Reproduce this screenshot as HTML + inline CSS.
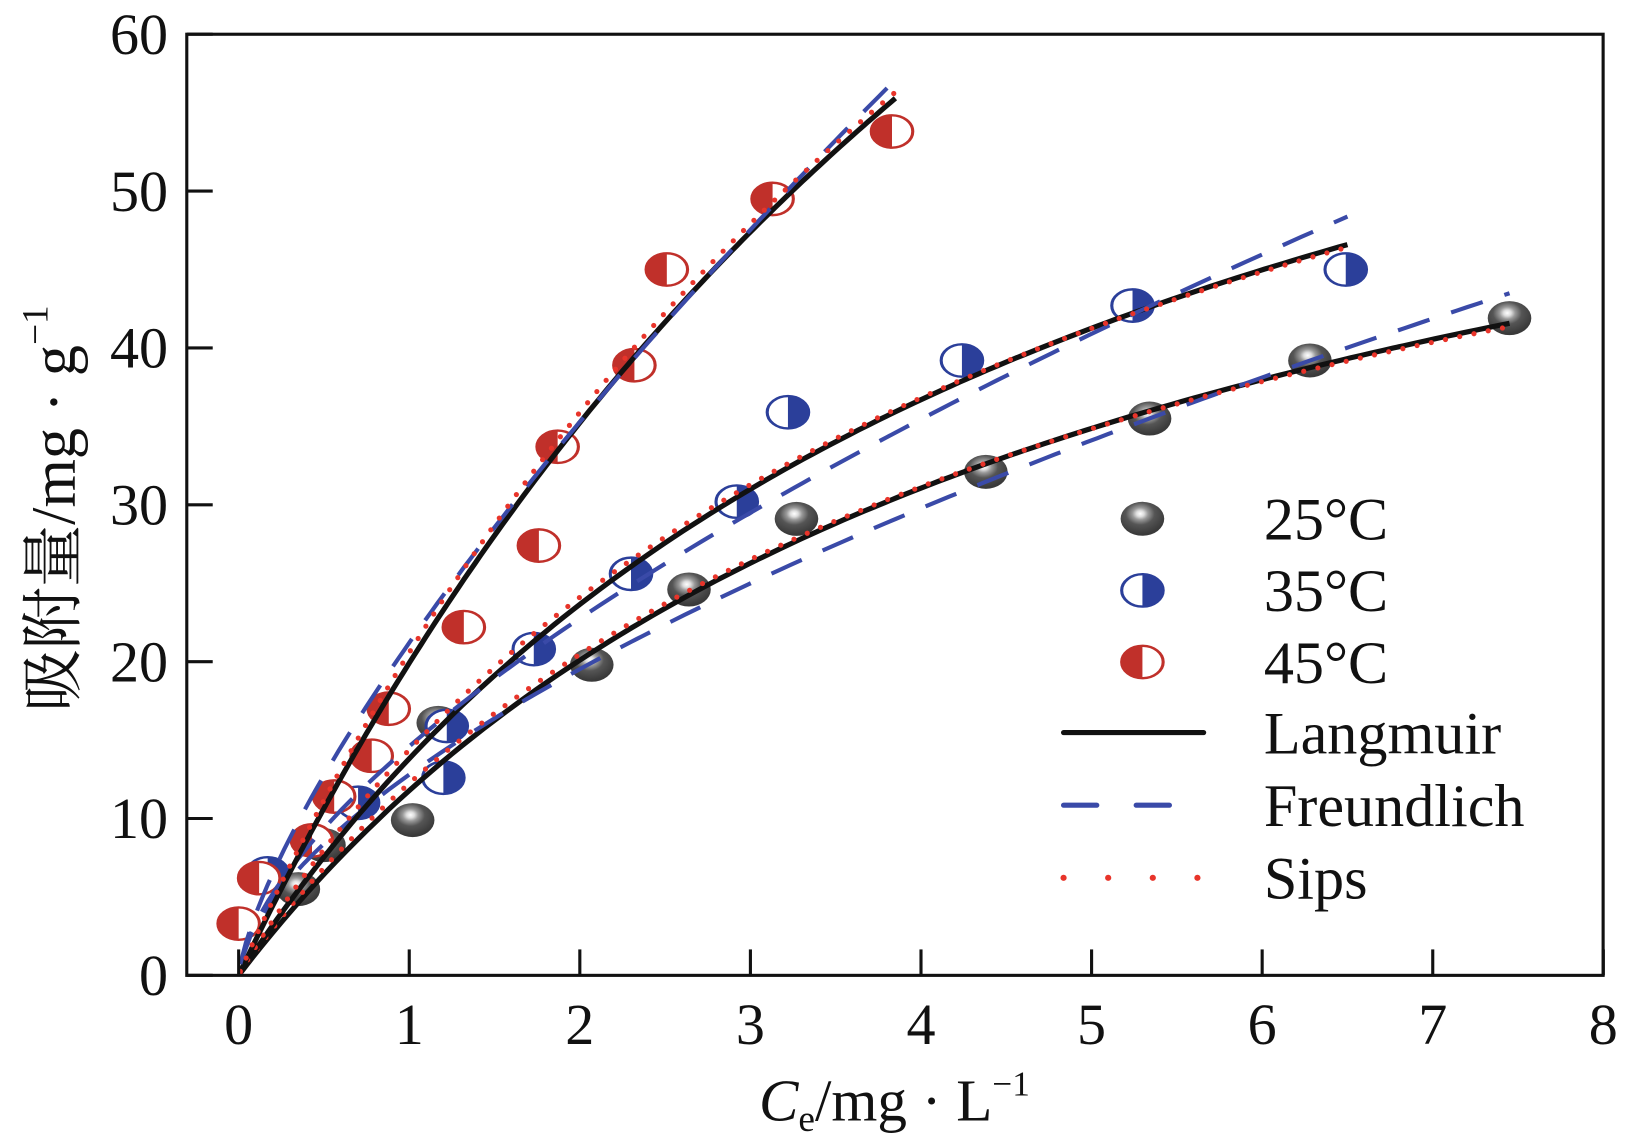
<!DOCTYPE html>
<html><head><meta charset="utf-8"><style>
body{margin:0;background:#fff}
svg text{font-family:"Liberation Serif","Times New Roman","Noto Serif CJK SC",serif;fill:#111}
</style></head><body>
<svg width="1627" height="1142" viewBox="0 0 1568 1100.6" xmlns="http://www.w3.org/2000/svg">
<defs>
<radialGradient id="gg" cx="0.45" cy="0.35" r="0.6">
<stop offset="0" stop-color="#fff"/><stop offset="0.15" stop-color="#ddd"/><stop offset="0.3" stop-color="#999"/><stop offset="0.55" stop-color="#555"/><stop offset="1" stop-color="#3a3a3a"/>
</radialGradient>
<clipPath id="lh"><rect x="-30" y="-30" width="30" height="60"/></clipPath>
<clipPath id="rh"><rect x="0" y="-30" width="30" height="60"/></clipPath>
</defs>
<g id="plot"></g>
<rect x="180" y="33" width="1365" height="907" fill="none" stroke="#111" stroke-width="3"/>
<g id="axes"></g>
<text x="862" y="1080" font-size="57" text-anchor="middle"><tspan font-style="italic">C</tspan><tspan font-size="36" dy="10">e</tspan><tspan dy="-10">/mg · L</tspan><tspan font-size="34" dy="-24">−1</tspan></text>
<text transform="translate(72,490) rotate(-90)" font-size="60" text-anchor="middle">吸附量/mg · g<tspan font-size="36" dy="-26">−1</tspan></text>
<g id="legend"></g>
</svg>
<script>
const x25=[0.35,0.5,1.02,1.17,2.07,2.64,3.27,4.38,5.34,6.28,7.45];
const y25=[5.5,8.3,9.9,16.1,19.8,24.6,29.1,32.1,35.5,39.2,41.9];
const x35=[0.17,0.7,1.2,1.22,1.73,2.3,2.92,3.22,4.24,5.24,6.49];
const y35=[6.5,11.0,12.6,15.9,20.8,25.6,30.2,35.9,39.2,42.7,45.0];
const x45=[0,0.12,0.43,0.56,0.78,0.88,1.32,1.76,1.87,2.32,2.51,3.13,3.83];
const y45=[3.3,6.2,8.6,11.4,14.0,17.0,22.2,27.4,33.7,38.9,45.0,49.5,53.8];
// fit parameters: [25C, 35C, 45C]
const langQm=[68.4,81.9,153];
const langK=[0.208,0.203,0.1496];
const freKf=[12.8,14.6,21.2];
const freN=[0.609,0.64,0.735];
const sipsN=[0.97,0.97,0.98];
const cMax=[7.45,6.5,3.85];
const xTicks=[0,1,2,3,4,5,6,7,8];
const yTicks=[0,10,20,30,40,50,60];
const NS="http://www.w3.org/2000/svg";
const sx=v=>230+v*164.4, sy=v=>940-v*15.117;
function mk(t,a,p){const e=document.createElementNS(NS,t);for(const k in a)e.setAttribute(k,a[k]);(p||document.getElementById('plot')).appendChild(e);return e;}
const axes=document.getElementById('axes');
xTicks.forEach(t=>{const l=mk('line',{x1:sx(t),x2:sx(t),y1:940,y2:915,stroke:'#111','stroke-width':3},axes);

const tx=mk('text',{x:sx(t),y:1006,'font-size':56,'text-anchor':'middle'},axes);tx.textContent=t;
});
yTicks.forEach(t=>{const l=mk('line',{x1:180,x2:205,y1:sy(t),y2:sy(t),stroke:'#111','stroke-width':3},axes);

const tx=mk('text',{x:162,y:sy(t)+19,'font-size':56,'text-anchor':'end'},axes);tx.textContent=t;
});
function curve(f,cm,sty,name){let d='';for(let i=0;i<=120;i++){const c=0.01+(cm-0.01)*i/120;d+=(i?'L':'M')+sx(c).toFixed(1)+','+sy(f(c)).toFixed(1);}
const p=mk('path',Object.assign({d:d,fill:'none'},sty));}
function marker(type,cx,cy,p){const g=mk('g',{transform:`translate(${cx},${cy}) scale(1,0.78)`},p);
if(type===0){mk('circle',{r:21,fill:'url(#gg)'},g);}
else if(type===1){mk('circle',{r:20,fill:'#fff',stroke:'#2b3f9a','stroke-width':3},g);mk('circle',{r:21,fill:'#2b3f9a','clip-path':'url(#rh)'},g);}
else{mk('circle',{r:20,fill:'#fff',stroke:'#c0302a','stroke-width':3},g);mk('circle',{r:21,fill:'#c0302a','clip-path':'url(#lh)'},g);}
return g;}
const xs=[x25,x35,x45],ys=[y25,y35,y45],nm=['25c','35c','45c'];
for(let s=0;s<3;s++){xs[s].forEach((v,i)=>{const g=marker(s,sx(v),sy(ys[s][i]));});}
for(let s=0;s<3;s++){
curve(c=>langQm[s]*langK[s]*c/(1+langK[s]*c),cMax[s],{stroke:'#111','stroke-width':5},'langmuir-'+nm[s]);
curve(c=>freKf[s]*Math.pow(c,freN[s]),cMax[s],{stroke:'#3a4aa8','stroke-width':4,'stroke-dasharray':'32 22'},'freundlich-'+nm[s]);
curve(c=>{const k=Math.pow(langK[s]*c,sipsN[s]);return langQm[s]*k/(1+k);},cMax[s],{stroke:'#e8342a','stroke-width':5,'stroke-dasharray':'0 14','stroke-linecap':'round'},'sips-'+nm[s]);}
const lg=document.getElementById('legend');
const labs=['25°C','35°C','45°C'];
for(let s=0;s<3;s++){const yy=500+s*69;const g=marker(s,1101,yy,lg);
const t=mk('text',{x:1218,y:yy+20,'font-size':58},lg);t.textContent=labs[s];}
const ln=[['Langmuir',{stroke:'#111','stroke-width':5,'stroke-linecap':'round'}],['Freundlich',{stroke:'#3a4aa8','stroke-width':5,'stroke-dasharray':'32 38','stroke-linecap':'round'}],['Sips',{stroke:'#e8342a','stroke-width':6,'stroke-dasharray':'0 43','stroke-linecap':'round'}]];
ln.forEach((l,i)=>{const yy=706+i*70;const e=mk('line',Object.assign({x1:1025,x2:1160,y1:yy,y2:yy},l[1]),lg);
const t=mk('text',{x:1218,y:yy+20,'font-size':58},lg);t.textContent=l[0];});
</script>
</body></html>
